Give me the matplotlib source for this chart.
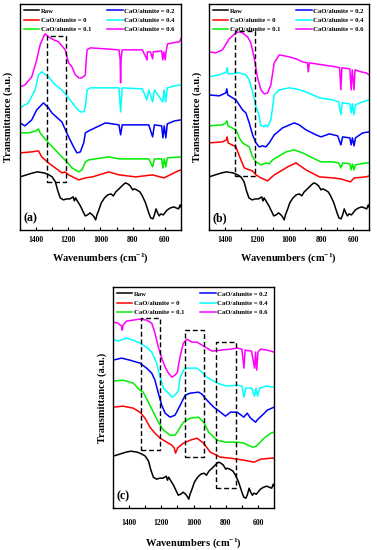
import matplotlib
matplotlib.use("Agg")
import matplotlib.pyplot as plt
from matplotlib.ticker import MultipleLocator

plt.rcParams['font.family'] = ['Liberation Serif', 'DejaVu Serif']
plt.rcParams['font.weight'] = 'bold'
plt.rcParams['mathtext.fontset'] = 'custom'
plt.rcParams['mathtext.rm'] = 'Liberation Serif:bold'
plt.rcParams['mathtext.default'] = 'rm'

labels = ["Raw", "CaO/alunite = 0", "CaO/alunite = 0.1",
          "CaO/alunite = 0.2", "CaO/alunite = 0.4", "CaO/alunite = 0.6"]
colors = ["black", "#ff0000", "#00ee00", "#0000ff", "#00ffff", "#ff00ff"]

# raw alunite spectrum (same sample in all three panels)
raw_wn = [1500, 1460, 1420, 1390, 1350, 1320, 1300, 1280, 1265, 1250, 1230, 1210,
          1190, 1170, 1162, 1155, 1140, 1125, 1110, 1095, 1080, 1065, 1050, 1040,
          1030, 1022, 1010, 995, 975, 955, 935, 920, 905, 885, 860, 845, 830, 815,
          800, 790, 775, 755, 740, 720, 700, 688, 675, 665, 655, 645, 635, 625,
          610, 600, 585, 565, 545, 530, 515, 505, 500]
raw_t = [52, 54, 56, 57, 56, 54, 52, 47, 38, 31, 29, 30,
         30, 32, 28, 31, 27, 23, 18, 13, 14, 16, 14, 12,
         9, 14, 19, 26, 31, 34, 35, 33, 37, 40, 44, 46, 45, 43,
         39, 40, 39, 37, 33, 26, 16, 11, 10, 14, 20, 16, 13, 15,
         14, 16, 19, 21, 22, 21, 20, 24, 22]

# panel (a)
a0_wn = [1500, 1427, 1385, 1365, 1323, 1281, 1240, 1219, 1198, 1135, 1094, 1050,
         948, 885, 781, 677, 605, 531, 500]
a0_t = [76, 77, 78, 72, 66, 61, 56, 57, 54, 49, 51, 52,
        57, 54, 52, 54, 51, 57, 59]
a1_wn = [1500, 1448, 1400, 1385, 1375, 1365, 1323, 1281, 1240, 1208, 1177, 1135,
         1115, 1094, 1073, 990, 948, 885, 700, 676, 665, 620, 612, 604, 594, 585, 500]
a1_t = [96, 96, 98, 100, 96, 94, 86, 79, 72, 67, 61, 57,
        59, 67, 69, 71, 72, 70, 70, 62, 70, 70, 61, 70, 62, 71, 72]
a2_wn = [1500, 1469, 1427, 1396, 1354, 1323, 1302, 1240, 1198, 1167, 1146, 1125,
         1104, 1094, 1073, 969, 885, 875, 865, 700, 676, 665, 620, 612, 604, 594,
         585, 540, 500]
a2_t = [106, 103, 109, 119, 126, 121, 116, 107, 92, 82, 76, 77,
        86, 96, 98, 106, 104, 94, 104, 104, 92, 104, 103, 91, 103, 91,
        105, 108, 109]
a4_wn = [1500, 1469, 1448, 1406, 1385, 1365, 1323, 1281, 1240, 1198, 1156, 1125,
         1104, 1094, 1083, 1063, 950, 885, 875, 865, 740, 712, 700, 676, 665,
         613, 605, 595, 585, 540, 500]
a4_t = [121, 124, 126, 139, 154, 157, 152, 144, 139, 131, 122, 117,
        117, 122, 139, 141, 141, 141, 117, 141, 140, 129, 139, 127, 139,
        127, 139, 127, 141, 143, 144]
a6_wn = [1500, 1469, 1427, 1396, 1375, 1354, 1344, 1323, 1290, 1260, 1219, 1198,
         1177, 1156, 1135, 1115, 1094, 1088, 1083, 1063, 969, 885, 878, 875, 872,
         865, 740, 716, 712, 708, 690, 676, 672, 620, 613, 606, 598, 592, 583,
         550, 510, 500]
a6_t = [142, 144, 152, 169, 184, 192, 195, 192, 189, 187, 179, 166,
        162, 154, 151, 151, 154, 170, 179, 181, 180, 179, 170, 146, 170,
        179, 179, 171, 169, 177, 177, 170, 177, 178, 169, 177, 169, 178, 185,
        186, 187, 190]

# panel (b)
b0_wn = [1500, 1415, 1390, 1386, 1380, 1331, 1300, 1279, 1248, 1227, 1206, 1175,
         1133, 1113, 1092, 1060, 1008, 956, 894, 810, 727, 676, 617, 592, 519, 500]
b0_t = [86, 87, 89, 92, 86, 82, 69, 61, 59, 58, 54, 51,
        48, 51, 54, 57, 62, 66, 59, 52, 51, 50, 47, 51, 52, 53]
b1_wn = [1500, 1415, 1394, 1388, 1380, 1331, 1310, 1290, 1248, 1227, 1206, 1175,
         1144, 1123, 1102, 1071, 1019, 967, 915, 852, 800, 727, 690, 676, 665,
         620, 612, 604, 594, 585, 519, 500]
b1_t = [103, 104, 106, 108, 103, 99, 91, 86, 82, 72, 67, 64,
        66, 65, 69, 72, 77, 79, 76, 71, 67, 67, 66, 61, 66,
        65, 59, 65, 59, 64, 66, 66]
b2_wn = [1500, 1435, 1394, 1388, 1382, 1331, 1290, 1269, 1248, 1227, 1206, 1185,
         1165, 1144, 1123, 1092, 1040, 967, 936, 894, 831, 800, 748, 696, 676,
         665, 620, 612, 604, 594, 585, 540, 500]
b2_t = [134, 133, 136, 140, 134, 129, 119, 116, 106, 94, 86, 82,
        83, 82, 86, 94, 101, 106, 104, 99, 94, 92, 95, 93, 84,
        92, 91, 84, 91, 83, 91, 96, 97]
b4_wn = [1500, 1435, 1390, 1385, 1380, 1310, 1269, 1248, 1227, 1206, 1187, 1177,
         1156, 1144, 1133, 1113, 1100, 1092, 1060, 998, 956, 894, 810, 727, 690,
         676, 668, 620, 612, 604, 594, 585, 540, 500]
b4_t = [152, 154, 157, 161, 155, 156, 154, 149, 137, 122, 114, 104,
        102, 104, 102, 109, 124, 134, 139, 141, 140, 137, 131, 129, 127,
        114, 126, 125, 116, 125, 114, 124, 127, 129]
b6_wn = [1500, 1456, 1415, 1373, 1331, 1310, 1290, 1258, 1238, 1217, 1196, 1175,
         1154, 1133, 1113, 1092, 1060, 998, 956, 915, 885, 879, 873, 790, 706,
         684, 676, 670, 620, 612, 605, 594, 588, 550, 519, 500]
b6_t = [177, 176, 179, 190, 196, 197, 196, 192, 186, 171, 151, 139,
        135, 136, 144, 166, 174, 172, 170, 167, 166, 157, 166, 164, 162,
        161, 139, 161, 160, 139, 159, 139, 159, 157, 156, 154]

# panel (c)
c0_wn = [1500, 1438, 1375, 1333, 1302, 1271, 1240, 1208, 1167, 1135, 1120, 1112,
         1100, 1094, 1063, 1021, 979, 938, 896, 833, 771, 688, 625, 583, 521, 500]
c0_t = [101, 102, 100, 96, 90, 81, 75, 70, 66, 63, 60, 55,
        60, 61, 65, 68, 70, 65, 56, 51, 50, 48, 46, 49, 50, 50]
c1_wn = [1500, 1438, 1375, 1333, 1313, 1281, 1250, 1219, 1187, 1146, 1115, 1094,
         1063, 1021, 969, 938, 906, 854, 802, 729, 688, 635, 610, 562, 521, 500]
c1_t = [127, 128, 125, 118, 116, 106, 96, 86, 78, 73, 73, 78,
        86, 90, 91, 86, 76, 68, 66, 66, 65, 61, 62, 70, 75, 76]
c2_wn = [1500, 1448, 1396, 1333, 1292, 1260, 1240, 1219, 1198, 1177, 1146, 1115,
         1083, 1052, 1021, 969, 948, 917, 875, 833, 802, 771, 729, 688, 667, 646,
         615, 600, 573, 542, 500]
c2_t = [148, 150, 148, 145, 140, 135, 128, 115, 103, 95, 91, 93,
        103, 113, 115, 116, 114, 108, 101, 96, 92, 96, 96, 91, 95, 90,
        86, 89, 93, 98, 101]
c4_wn = [1500, 1470, 1417, 1375, 1333, 1292, 1260, 1229, 1208, 1187, 1156, 1135,
         1115, 1094, 1085, 1063, 1042, 979, 948, 917, 854, 792, 729, 700, 687,
         676, 640, 621, 612, 603, 590, 550, 500]
c4_t = [169, 167, 170, 168, 165, 161, 156, 145, 131, 120, 115, 111,
        113, 118, 130, 138, 140, 140, 136, 131, 125, 122, 123, 122, 111,
        120, 120, 112, 120, 112, 120, 122, 121]
c6_wn = [1500, 1470, 1448, 1443, 1438, 1417, 1375, 1333, 1292, 1260, 1240, 1219,
         1198, 1177, 1156, 1135, 1115, 1100, 1094, 1079, 1063, 1042, 1010, 979,
         948, 917, 885, 833, 771, 729, 700, 687, 680, 640, 621, 615, 608, 600,
         583, 542, 500]
c6_t = [186, 185, 182, 178, 183, 187, 188, 189, 188, 185, 175, 161,
        150, 141, 135, 131, 133, 136, 143, 155, 165, 169, 166, 166,
        163, 160, 157, 158, 159, 160, 159, 140, 158, 157, 140, 156, 138, 156,
        159, 158, 156]

# dashed boxes: (wn_left, wn_right, bottom, top)
boxes_a = [(1331, 1212, 47, 193)]
boxes_b = [(1335, 1210, 53, 198)]
boxes_c = [(1329, 1208, 58, 190), (1056, 933, 51, 178), (858, 735, 20, 166)]

# tag, axes rect, ylim, series, boxes, tick pad, xlabel pad, ylabel x
panels = [
    ("(a)", [0.053, 0.582, 0.427, 0.411], (-1, 225),
     [(a0_wn, a0_t), (a1_wn, a1_t), (a2_wn, a2_t), (a4_wn, a4_t), (a6_wn, a6_t)],
     boxes_a, 4.5, 5, -0.045),
    ("(b)", [0.554, 0.582, 0.425, 0.411], (-1, 225),
     [(b0_wn, b0_t), (b1_wn, b1_t), (b2_wn, b2_t), (b4_wn, b4_t), (b6_wn, b6_t)],
     boxes_b, 4.5, 5, -0.045),
    ("(c)", [0.300, 0.076, 0.427, 0.402], (0, 221),
     [(c0_wn, c0_t), (c1_wn, c1_t), (c2_wn, c2_t), (c4_wn, c4_t), (c6_wn, c6_t)],
     boxes_c, 8, 6.5, -0.04),
]

fig = plt.figure(figsize=(3.77, 5.50), dpi=100)

for tag, rect, ylim, series, boxes, tpad, lpad, ylx in panels:
    ax = fig.add_axes(rect)
    ax.plot(raw_wn, raw_t, color=colors[0], lw=1.1, label=labels[0])
    for (wn, t), col, lab in zip(series, colors[1:], labels[1:]):
        ax.plot(wn, t, color=col, lw=1.1, label=lab)
    for x0, x1, y0, y1 in boxes:
        ax.plot([x0, x1, x1, x0, x0], [y0, y0, y1, y1, y0], color="black",
                lw=1.0, ls=(0, (3.5, 2)))
    ax.set_xlim(1500, 500)
    ax.set_ylim(*ylim)
    ax.xaxis.set_major_locator(MultipleLocator(200))
    ax.xaxis.set_minor_locator(MultipleLocator(100))
    ax.tick_params(axis="x", which="both", direction="in", length=2.5, width=0.8,
                   labelsize=5.5, pad=tpad, top=False)
    ax.set_yticks([])
    for sp in ax.spines.values():
        sp.set_linewidth(1.0)
    ax.set_xlabel("Wavenumbers (cm$^{-1}$)", fontsize=7.5, fontweight="bold", labelpad=lpad)
    ax.set_ylabel("Transmittance (a.u.)", fontsize=7.5, fontweight="bold")
    ax.yaxis.set_label_coords(ylx, 0.5)
    ax.text(0.02, 0.04, tag, transform=ax.transAxes, fontsize=8.5, fontweight="bold")
    ax.legend(ncol=2, loc="upper left", frameon=False, fontsize=4.8, handlelength=2.3,
              handletextpad=0.25, columnspacing=2.4, labelspacing=0.55,
              borderaxespad=0.4, borderpad=0.2)

fig.savefig("out.png", dpi=100)
